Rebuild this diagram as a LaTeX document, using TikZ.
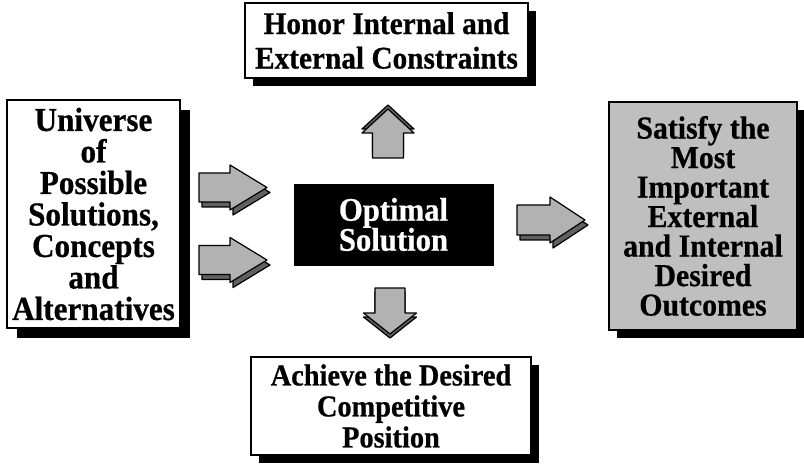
\documentclass[tikz,border=0pt]{standalone}
\usepackage{fontspec}
\setmainfont{Liberation Serif}[FakeStretch=0.93, BoldFeatures={FakeBold=0.6}]
\usetikzlibrary{shadows}

\tikzset{
  panel/.style={draw=black, line width=1.6pt, fill=white, align=center,
                inner sep=0pt, font=\bfseries},
  shadowed/.style={drop shadow={shadow xshift=#1, shadow yshift=-#1,
                   fill=black, opacity=1}},
  arrowfront/.style={fill=black!30, draw=black, line width=1.2pt, line join=round},
  arrowside/.style={fill=black!62, draw=black, line width=1.2pt, line join=round},
}

% 3D block arrow pointing along local +x
% #1,#2 tail centre  #3 rotation  #4 shaft length  #5 total length
% #6 shaft half width  #7 head half width  #8,#9 depth offset
\newcommand\blockarrow[9]{%
  \begin{scope}[shift={(#1,#2)}, rotate=#3]
    \path[arrowside, shift={(#8,#9)}]
      (0,-#6) -- (#4,-#6) -- (#4,-#7) -- (#5,0) -- (#4,#7) -- (#4,#6) -- (0,#6) -- cycle;
    \path[arrowfront]
      (0,-#6) -- (#4,-#6) -- (#4,-#7) -- (#5,0) -- (#4,#7) -- (#4,#6) -- (0,#6) -- cycle;
  \end{scope}}

\begin{document}
\begin{tikzpicture}[x=1pt, y=-1pt]
  \useasboundingbox (0,0) rectangle (804,468);

  % boxes
  \node[panel, shadowed=8pt, minimum width=283pt, minimum height=75pt,
        font=\bfseries\fontsize{31.5}{34.5}\selectfont]
    (honor) at (386.5,40.5) {Honor Internal and\\External Constraints};

  \node[panel, shadowed=10pt, minimum width=173pt, minimum height=228pt,
        font=\bfseries\fontsize{33.5}{31.5}\selectfont]
    (universe) at (93.5,214) {Universe\\of\\Possible\\Solutions,\\Concepts\\and\\Alternatives};

  \node[draw=black, fill=black, text=white, align=center, inner sep=0pt,
        minimum width=199pt, minimum height=81pt,
        font=\bfseries\fontsize{33}{30}\selectfont]
    (optimal) at (393.5,224.5) {Optimal\\Solution};

  \node[panel, fill=black!25, shadowed=8pt, minimum width=188pt, minimum height=228pt,
        font=\bfseries\fontsize{32}{29.5}\selectfont]
    (satisfy) at (703,216) {Satisfy the\\Most\\Important\\External\\and Internal\\Desired\\Outcomes};

  \node[panel, shadowed=8pt, minimum width=280pt, minimum height=98pt,
        font=\bfseries\fontsize{30.5}{31}\selectfont]
    (achieve) at (391,406) {Achieve the Desired\\Competitive\\Position};

  % block arrows
  \blockarrow{199}{187.5}{0}{31}{68}{14.5}{22.5}{3}{5}
  \blockarrow{199}{260}{0}{31}{68}{14.5}{22.5}{3}{5}
  \blockarrow{517}{220}{0}{33}{68}{15}{23}{3}{5}
  \blockarrow{388}{158}{90}{25}{49}{15.5}{26}{4}{0}
  \blockarrow{390}{288}{-90}{25}{46}{15}{26.5}{4}{0}
\end{tikzpicture}
\end{document}
